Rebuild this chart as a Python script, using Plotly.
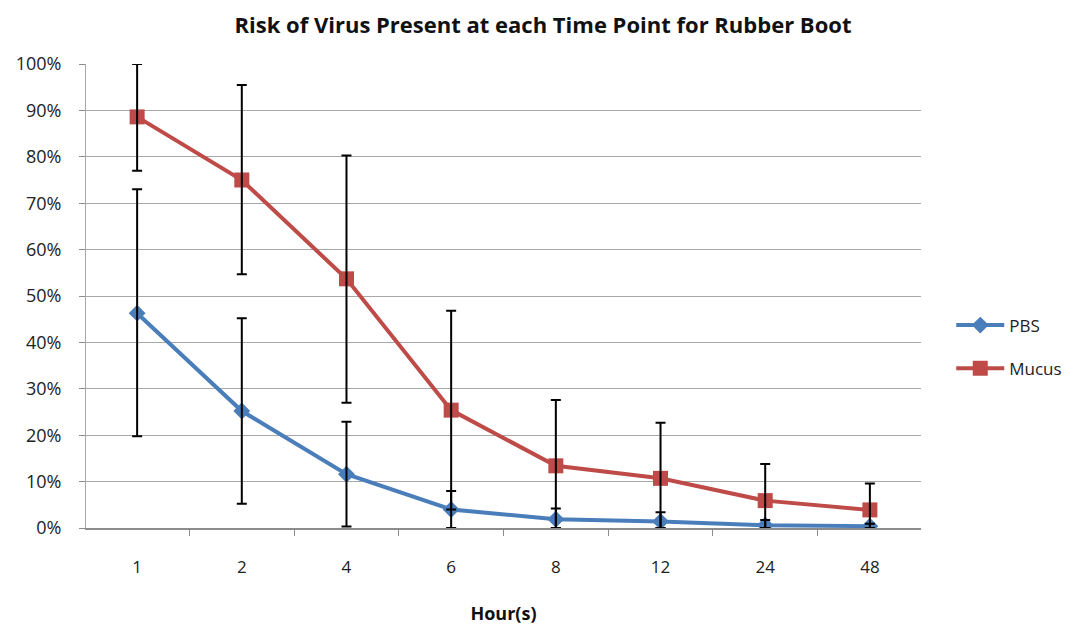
import plotly.graph_objects as go

hours = ["1", "2", "4", "6", "8", "12", "24", "48"]

pbs = [0.463, 0.252, 0.116, 0.040, 0.019, 0.014, 0.006, 0.004]
pbs_err_plus = [0.267, 0.200, 0.113, 0.040, 0.023, 0.020, 0.011, 0.005]
pbs_err_minus = [0.265, 0.200, 0.113, 0.040, 0.019, 0.014, 0.006, 0.004]

mucus = [0.886, 0.750, 0.537, 0.254, 0.134, 0.107, 0.059, 0.039]
mucus_err_plus = [0.114, 0.205, 0.266, 0.214, 0.142, 0.120, 0.079, 0.057]
mucus_err_minus = [0.116, 0.203, 0.267, 0.214, 0.134, 0.107, 0.059, 0.039]

y_ticks = [0, 0.1, 0.2, 0.3, 0.4, 0.5, 0.6, 0.7, 0.8, 0.9, 1.0]

FONT = "Open Sans"
BLUE = "#4a7ebb"
RED = "#be4b48"

fig = go.Figure()

fig.add_trace(go.Scatter(
    x=hours, y=pbs, mode="lines+markers", name="PBS",
    line=dict(color=BLUE, width=4),
    marker=dict(symbol="diamond", size=13, color=BLUE),
    legendgroup="a",
))
fig.add_trace(go.Scatter(
    x=hours, y=mucus, mode="lines+markers", name="Mucus",
    line=dict(color=RED, width=4),
    marker=dict(symbol="square", size=15, color=RED),
    legendgroup="b",
))
# error bars drawn on top
fig.add_trace(go.Scatter(
    x=hours, y=pbs, mode="markers", showlegend=False, hoverinfo="skip",
    marker=dict(size=1, opacity=0),
    error_y=dict(type="data", symmetric=False, array=pbs_err_plus,
                 arrayminus=pbs_err_minus, color="black", thickness=2, width=5),
))
fig.add_trace(go.Scatter(
    x=hours, y=mucus, mode="markers", showlegend=False, hoverinfo="skip",
    marker=dict(size=1, opacity=0),
    error_y=dict(type="data", symmetric=False, array=mucus_err_plus,
                 arrayminus=mucus_err_minus, color="black", thickness=2, width=5),
))

fig.update_layout(
    width=1070, height=622,
    paper_bgcolor="white", plot_bgcolor="white",
    margin=dict(l=78, r=156, t=56, b=102),
    font=dict(family=FONT, color="#222222"),
    title=dict(text="<b>Risk of Virus Present at each Time Point for Rubber Boot</b>",
               x=0.5, xanchor="center", y=0.984, yanchor="top",
               font=dict(family=FONT, size=22, color="#111111")),
    showlegend=True,
    legend=dict(x=1.035, xanchor="left", y=0.39, yanchor="middle",
                itemwidth=48,
                font=dict(family=FONT, size=17, color="#222222"),
                tracegroupgap=18, bgcolor="rgba(0,0,0,0)"),
)

fig.update_xaxes(
    type="category", categoryorder="array", categoryarray=hours,
    automargin=False,
    showline=True, linecolor="#8c8c8c", linewidth=1.5,
    ticks="outside", tickson="boundaries", ticklen=6, tickcolor="#8c8c8c",
    showgrid=False, zeroline=False,
    tickfont=dict(family=FONT, size=17, color="#222222"),
    ticklabelstandoff=23,
    title=dict(text="<b>Hour(s)</b>", font=dict(family=FONT, size=18, color="#111111"),
               standoff=30),
)
fig.update_yaxes(
    range=[0, 1.0], tickvals=y_ticks, tickformat=".0%",
    automargin=False,
    showline=True, linecolor="#a8a8a8", linewidth=1,
    ticks="outside", ticklen=6, tickcolor="#8c8c8c",
    showgrid=True, gridcolor="#a8a8a8", gridwidth=1, zeroline=False,
    tickfont=dict(family=FONT, size=18, color="#222222"),
    ticklabelstandoff=14,
)

fig.write_html("out.html")
